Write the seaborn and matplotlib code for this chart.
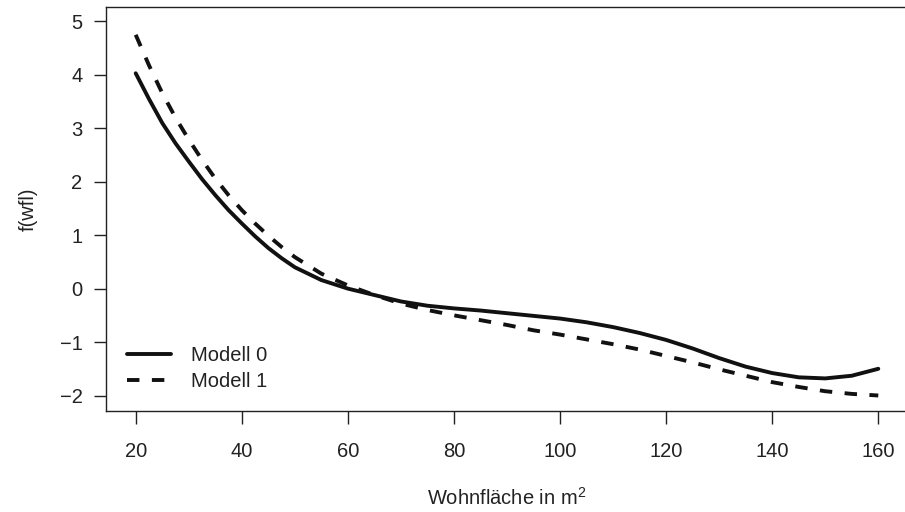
import numpy as np
import pandas as pd
import seaborn as sns
import matplotlib.pyplot as plt

# Wohnflaeche (m^2) and estimated effect f(wfl)
wfl = [20, 22.5, 25, 27.5, 30, 32.5, 35, 37.5, 40, 42.5, 45, 47.5, 50,
       55, 60, 65, 70, 75, 80, 85, 90, 95, 100, 105, 110, 115, 120,
       125, 130, 135, 140, 145, 150, 155, 160]
modell0 = [4.03, 3.55, 3.10, 2.72, 2.38, 2.05, 1.75, 1.47, 1.22, 0.98, 0.76,
           0.57, 0.40, 0.16, 0.00, -0.12, -0.24, -0.32, -0.37, -0.41, -0.46,
           -0.51, -0.56, -0.63, -0.72, -0.83, -0.96, -1.12, -1.30, -1.46,
           -1.58, -1.66, -1.68, -1.63, -1.50]
modell1 = [4.75, 4.18, 3.66, 3.20, 2.79, 2.41, 2.06, 1.75, 1.47, 1.22, 0.99,
           0.78, 0.59, 0.28, 0.06, -0.12, -0.28, -0.40, -0.50, -0.59, -0.68,
           -0.78, -0.86, -0.95, -1.04, -1.14, -1.26, -1.38, -1.51, -1.63,
           -1.75, -1.84, -1.92, -1.97, -2.00]

x_ticks = [20, 40, 60, 80, 100, 120, 140, 160]
y_ticks = [-2, -1, 0, 1, 2, 3, 4, 5]

df = pd.DataFrame({'wfl': wfl, 'Modell 0': modell0, 'Modell 1': modell1})

sns.set_style('ticks')
plt.rcParams['font.family'] = ['Liberation Sans', 'DejaVu Sans']
plt.rcParams['mathtext.fontset'] = 'custom'
plt.rcParams['mathtext.rm'] = 'Liberation Sans'

fig = plt.figure(figsize=(9.05, 5.12), dpi=100)
ax = fig.add_axes([106 / 905, 1 - 411 / 512, 802 / 905, 404 / 512])

sns.lineplot(data=df, x='wfl', y='Modell 0', ax=ax, color='#111111',
             linewidth=2.8, label='Modell 0')
sns.lineplot(data=df, x='wfl', y='Modell 1', ax=ax, color='#111111',
             linewidth=2.8, label='Modell 1')
ax.lines[1].set_dashes((3.2, 3.2))

ax.set_xlim(14.4, 165.6)
ax.set_ylim(-2.29, 5.27)
ax.set_xticks(x_ticks)
ax.set_yticks(y_ticks)
ax.set_yticklabels(['\u22122', '\u22121', '0', '1', '2', '3', '4', '5'])

for side in ['top', 'left', 'bottom']:
    ax.spines[side].set_visible(True)
    ax.spines[side].set_color('#222222')
    ax.spines[side].set_linewidth(1.0)
ax.spines['right'].set_visible(False)

ax.tick_params(axis='both', labelsize=14.5, length=9, width=1.0,
               color='#222222', labelcolor='#222222')
ax.tick_params(axis='x', pad=13)
ax.tick_params(axis='y', pad=8)

ax.set_xlabel('Wohnfläche in m$^{\\mathregular{2}}$', fontsize=14.5,
              color='#222222', labelpad=19)
ax.set_ylabel('f(wfl)', fontsize=14.5, color='#222222', labelpad=16)

leg = ax.legend(loc='center left', bbox_to_anchor=(0.026, 0.105), frameon=False,
                fontsize=14.5, handlelength=2.2, handletextpad=1.0,
                labelspacing=0.35, borderpad=0, borderaxespad=0)
for t in leg.get_texts():
    t.set_color('#222222')

fig.savefig('out.png', dpi=100)
